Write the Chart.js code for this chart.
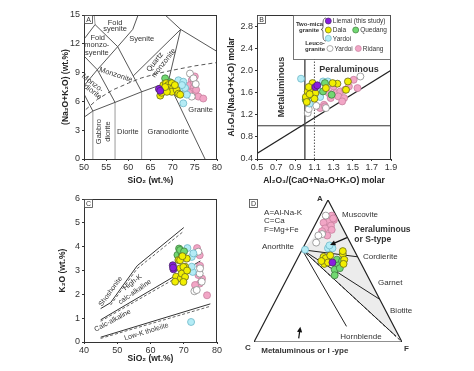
<!DOCTYPE html>
<html>
<head>
<meta charset="utf-8">
<script src="https://cdn.jsdelivr.net/npm/chart.js@4.4.1/dist/chart.umd.min.js"></script>
<style>
  body { margin: 0; background: #fff; width: 474px; height: 371px; position: relative; overflow: hidden; }
  canvas { position: absolute; }
</style>
</head>
<body>
<canvas id="chartA" width="192" height="182" style="left:40px;top:5px;width:192px;height:182px"></canvas>
<canvas id="chartB" width="252" height="182" style="left:222px;top:5px;width:252px;height:182px"></canvas>
<canvas id="chartC" width="192" height="181" style="left:40px;top:190px;width:192px;height:181px"></canvas>
<canvas id="chartD" width="237" height="186" style="left:237px;top:185px;width:237px;height:186px"></canvas>
<script>
// Fonts ----------------------------------------------------------
const FONT = "'Liberation Sans', Arial, Helvetica, sans-serif";
Chart.defaults.font.family = FONT;
Chart.defaults.color = '#333';

// Panel A: TAS diagram ---------------------------------------------
const xTicksA = [50, 55, 60, 65, 70, 75, 80];
const yTicksA = [0, 3, 6, 9, 12, 15];
const tasSolid = [
  [[50, 4.35], [52, 5], [57, 5.9], [63, 7], [69, 8]],
  [[69, 8], [77.3, 0]],
  [[69, 8], [71.8, 13.5]],
  [[63, 7], [57.6, 11.7]],
  [[57, 5.9], [53, 9.3]],
  [[53, 9.3], [57.6, 11.7]],
  [[61.1, 8.65], [71.8, 13.5]],
  [[57.6, 11.7], [61, 13.5], [62.2, 15]],
  [[68.3, 15], [71.8, 13.5], [80, 11.2]],
  [[50, 12.48], [52.5, 14], [57.6, 11.7]],
  [[50, 10.73], [53, 9.3]],
  [[50, 7.63], [53, 9.3]],
  [[50, 6.77], [52, 5]]
];
const tasGray = [
  [[52, 0], [52, 5]],
  [[57, 0], [57, 5.9]],
  [[63, 0], [63, 7]],
  [[52.5, 14], [52.3, 15]]
];
const tasDashed = [[50.4, 5.15], [53, 6.2], [56.5, 7.2], [60, 7.9], [63, 8.45], [66.5, 8.9], [70, 9.25], [75, 9.7], [80, 10.05]];

const liemaiA = [[66.9, 7.3], [67.2, 7.1]];
const dalaA = [[67.2, 6.6], [67.5, 6.9], [67.9, 7.7], [68.5, 7.9], [69.0, 7.7], [69.8, 7.9], [69.0, 7.4], [70.1, 7.4],
  [69.8, 7.0], [70.9, 7.2], [71.3, 6.8], [71.7, 6.7], [68.7, 7.0], [70.5, 7.7], [68.3, 7.5]];
const quedangA = [[68.3, 8.4], [69.4, 8.0]];
const yardoiMicaA = [[71.3, 8.2], [72.4, 8.05], [71.7, 7.2], [72.4, 5.8], [72.8, 7.4], [73.2, 6.7], [72.1, 7.7]];
const yardoiLeucoA = [[73.9, 8.9], [74.7, 8.4], [74.3, 6.5], [75.2, 7.8]];
const ridangA = [[74.3, 8.2], [73.9, 7.7], [74.7, 7.4], [74.3, 7.0], [75.0, 6.8], [75.8, 6.5], [76.9, 6.3],
  [74.8, 8.0], [73.7, 6.9], [75.3, 7.2], [75.0, 8.6]];

const labelsA = [
  {t: 'Foid', x: 57.0, y: 14.2}, {t: 'syenite', x: 57.0, y: 13.5},
  {t: 'Foid', x: 53.1, y: 12.65}, {t: 'monzo-', x: 52.9, y: 11.9}, {t: 'syenite', x: 52.9, y: 11.1},
  {t: 'Syenite', x: 63.0, y: 12.5},
  {t: 'Quartz', x: 66.0, y: 10.1, r: -52}, {t: 'monzonite', x: 68.0, y: 10.0, r: -52},
  {t: 'Monzonite', x: 57.2, y: 8.75, r: 18},
  {t: 'Monzo-', x: 51.9, y: 7.9, r: 38}, {t: 'diorite', x: 52.0, y: 7.0, r: 38},
  {t: 'Gabbro', x: 53.4, y: 2.85, r: -90}, {t: 'diorite', x: 55.3, y: 2.85, r: -90},
  {t: 'Diorite', x: 59.9, y: 2.85}, {t: 'Granodiorite', x: 69.0, y: 2.85}, {t: 'Granite', x: 76.3, y: 5.1}
];

// Panel B: A/NK vs A/CNK ---------------------------------------------
const xTicksB = [0.5, 0.7, 0.9, 1.1, 1.3, 1.5, 1.7, 1.9];
const yTicksB = [0.4, 0.8, 1.2, 1.6, 2.0, 2.4, 2.8];
const bVertical = [[1.0, 0.4], [1.0, 3.0]];
const bDotted = [[1.1, 0.4], [1.1, 3.0]];
const bHorizontal = [[0.5, 1.0], [1.9, 1.0]];
const bDiagonal = [[0.5, 0.5], [1.9, 2.0]];

const liemaiB = [[1.11, 1.70], [1.13, 1.73]];
const dalaB = [[1.01, 1.52], [1.03, 1.62], [1.07, 1.68], [1.11, 1.59], [1.02, 1.43], [1.08, 1.77], [1.34, 1.76],
  [1.29, 1.77], [1.45, 1.80], [1.43, 1.65], [1.22, 1.68], [1.04, 1.70], [1.10, 1.49], [1.05, 1.57]];
const quedangB = [[1.01, 1.47], [1.19, 1.62], [1.21, 1.77], [1.06, 1.56], [1.28, 1.56]];
const yardoiMicaB = [[0.96, 1.85], [1.19, 1.80], [1.24, 1.80], [1.05, 1.40], [1.16, 1.52], [1.13, 1.65], [1.02, 1.44]];
const yardoiLeucoB = [[1.03, 1.23], [1.12, 1.36], [1.22, 1.32], [1.58, 1.89], [1.25, 1.77], [1.04, 1.30]];
const ridangB = [[1.51, 1.83], [1.46, 1.71], [1.55, 1.68], [1.30, 1.71], [1.25, 1.59], [1.32, 1.59], [1.37, 1.62],
  [1.27, 1.50], [1.35, 1.53], [1.41, 1.50], [1.20, 1.38], [1.16, 1.32], [1.21, 1.35], [1.39, 1.44], [1.42, 1.65]];

const labelsB = [
  {t: 'Metaluminous', x: 0.76, y: 1.70, r: -90, bold: true, size: 9},
  {t: 'Peraluminous', x: 1.46, y: 2.02, bold: true, size: 9}
];

// Panel C: K2O vs SiO2 ---------------------------------------------
const xTicksC = [40, 50, 60, 70, 80];
const yTicksC = [0, 1, 2, 3, 4, 5, 6];
const cSolid = [
  [[45, 1.4], [48, 1.65], [56, 3.2], [70, 4.8]],
  [[45, 0.93], [75, 3.4]],
  [[45, 0.2], [78, 1.6]]
];
const cDashed = [
  [[48, 1.55], [56, 3.08], [70, 4.65]],
  [[45, 0.87], [75, 3.27]],
  [[45, 0.15], [78, 1.5]]
];

const liemaiC = [[66.7, 3.22], [66.9, 3.05], [66.8, 3.12]];
const dalaC = [[68.4, 3.44], [68.9, 3.09], [70.4, 3.16], [67.7, 2.74], [69.1, 2.67], [67.4, 2.53], [69.9, 3.15],
  [69.4, 2.87], [70.4, 2.73], [69.9, 2.52], [68.9, 3.43], [70.9, 3.5], [69.6, 3.6], [71.0, 3.0]];
const quedangC = [[68.6, 3.92], [68.1, 3.65], [69.4, 3.71], [68.9, 3.86], [70.1, 3.8]];
const yardoiMicaC = [[71.1, 3.94], [72.4, 3.57], [72.7, 2.94], [72.2, 0.84], [72.4, 3.16], [72.9, 3.72]];
const yardoiLeucoC = [[73.2, 3.71], [74.8, 2.87], [73.2, 2.13], [74.4, 3.79], [75.4, 2.53], [73.9, 2.18], [74.9, 3.09]];
const ridangC = [[74.0, 3.94], [74.8, 3.64], [75.5, 2.66], [74.8, 2.45], [74.4, 2.81], [73.4, 2.39], [77.0, 1.96], [74.9, 3.2]];

const labelsC = [
  {t: 'Shoshonite', x: 48.0, y: 2.12, r: -54},
  {t: 'High-K', x: 54.6, y: 2.5, r: -38},
  {t: 'calc-alkaline', x: 55.3, y: 2.1, r: -35},
  {t: 'Calc-alkaline', x: 48.6, y: 0.9, r: -28},
  {t: 'Low-K tholeiite', x: 58.8, y: 0.43, r: -17}
];

// Panel D: ACF ternary, values are [A, C, F] ---------------------------
const apexA = [100, 0, 0], apexC = [0, 100, 0], apexF = [0, 0, 100];
const anorthite = [65, 35, 0];
const muscovite = [90, 0, 10];
const cordierite = [60, 0, 40];
const garnet = [30, 0, 70];
const biotite = [4, 2, 94];
const hornblende = [11, 32, 57];

const liemaiD = [[56, 19, 25]];
const dalaD = [[60, 23, 17], [59, 22, 19], [61, 18, 21], [55, 25, 20], [56, 22, 22], [62, 9, 29], [58, 10, 32],
  [55, 12, 33], [57, 26, 17], [64, 8, 28]];
const quedangD = [[58, 15, 27], [54, 16, 30], [51, 20, 29], [47, 22, 31], [52, 16, 32], [57, 12, 31]];
const yardoiMicaD = [[66, 17, 17], [66, 14, 20], [65, 33, 2], [68, 15, 17]];
const yardoiLeucoD = [[89, 7, 4], [76, 16, 8], [70, 23, 7], [75, 19, 6]];
const ridangD = [[88, 7, 5], [89, 3, 8], [86, 3, 11], [85, 7, 8], [84, 11, 5], [82, 7, 11], [80, 12, 8],
  [79, 8, 13], [78, 15, 7], [75, 13, 12], [87, 3, 10]];

// label positions in the ternary plane (x: C->F, y: base->A)
const labelsD = [
  {t: 'A=Al-Na-K', x: 0.068, y: 0.908, align: 'left'},
  {t: 'C=Ca', x: 0.068, y: 0.852, align: 'left'},
  {t: 'F=Mg+Fe', x: 0.068, y: 0.789, align: 'left'},
  {t: 'A', x: 0.446, y: 1.01, bold: true},
  {t: 'C', x: -0.041, y: -0.042, bold: true},
  {t: 'F', x: 1.03, y: -0.049, bold: true},
  {t: 'Anorthite', x: 0.162, y: 0.669},
  {t: 'Muscovite', x: 0.595, y: 0.898, align: 'left'},
  {t: 'Peraluminous', x: 0.678, y: 0.794, align: 'left', bold: true, size: 8.5},
  {t: 'or S-type', x: 0.678, y: 0.718, align: 'left', bold: true, size: 8.5},
  {t: 'Cordierite', x: 0.736, y: 0.601, align: 'left'},
  {t: 'Garnet', x: 0.838, y: 0.415, align: 'left'},
  {t: 'Biotite', x: 0.919, y: 0.218, align: 'left'},
  {t: 'Hornblende', x: 0.583, y: 0.037, align: 'left'},
  {t: 'Metaluminous or I -ype', x: 0.049, y: -0.063, align: 'left', bold: true}
];
const arrowsD = [
  {from: [0.628, 0.735], to: [0.514, 0.683]},
  {from: [0.302, 0.026], to: [0.313, 0.108]}
];

// Group styles ----------------------------------------------------
const groups = [
  {name: 'Liemai (this study)', bg: '#8a1de0', bd: '#4a2a6a'},
  {name: 'Dala', bg: '#f2ef00', bd: '#6a6a20'},
  {name: 'Quedang', bg: '#72d872', bd: '#3f7f3f'},
  {name: 'Yardoi', bg: '#b4ecf6', bd: '#6fb8c8'},
  {name: 'Yardoi', bg: '#ffffff', bd: '#8a8a8a'},
  {name: 'Ridang', bg: '#f2a6c6', bd: '#c7809e'}
];

// Helpers ----------------------------------------------------------
function xy(arr) {
  return arr.map(p => ({x: p[0], y: p[1]}));
}

// ternary [A, C, F] -> plane x,y
function tern(p) {
  let s = p[0] + p[1] + p[2];
  let a = p[0] / s, f = p[2] / s;
  return {x: f + a / 2, y: a};
}

function pointSets(series, conv) {
  return series.map((s, i) => ({
    data: s.map(conv),
    showLine: false,
    pointRadius: 3.5,
    pointBorderWidth: 0.8,
    backgroundColor: groups[i].bg,
    borderColor: groups[i].bd
  }));
}

function lineSet(pts, color, width, dash) {
  return {
    data: pts,
    showLine: true,
    pointRadius: 0,
    borderColor: color,
    borderWidth: width,
    borderDash: dash || [],
    fill: false
  };
}

function axis(min, max, ticks, digits, title, titlePad, size, isX) {
  return {
    type: 'linear', min: min, max: max,
    afterBuildTicks: s => { s.ticks = ticks.map(v => ({value: v})); },
    afterFit: s => { if (isX) s.height = size; else s.width = size; },
    border: {display: true, color: '#333', width: 1},
    grid: {drawOnChartArea: false, drawTicks: true, tickLength: 2, color: '#333'},
    ticks: {
      padding: isX ? 1 : 2, color: '#333', autoSkip: false, maxRotation: 0,
      font: {family: FONT, size: 9},
      callback: v => v.toFixed(digits)
    },
    title: {display: true, text: title, color: '#222', padding: titlePad,
      font: {family: FONT, size: 8.5, weight: 'bold'}}
  };
}

// Draws frame, panel letter, labels, arrows, legend
const decor = {
  id: 'decor',
  afterDatasetsDraw(chart, args, opts) {
    let ctx = chart.ctx;
    let ca = chart.chartArea;
    let xs = chart.scales.x, ys = chart.scales.y;
    ctx.save();

    if (opts.frame) {
      ctx.strokeStyle = '#333';
      ctx.lineWidth = 1;
      ctx.strokeRect(ca.left + 0.5, ca.top + 0.5, ca.width - 1, ca.height);
    }

    // Panel letter box
    if (opts.letter) {
      let bx = ca.left + opts.letter.dx, by = ca.top + opts.letter.dy;
      ctx.fillStyle = '#fff';
      ctx.fillRect(bx + 0.5, by + 0.5, 8, 8);
      ctx.strokeStyle = '#444';
      ctx.lineWidth = 0.8;
      ctx.strokeRect(bx + 0.5, by + 0.5, 8, 8);
      ctx.fillStyle = '#333';
      ctx.font = '7px ' + FONT;
      ctx.textAlign = 'center';
      ctx.textBaseline = 'middle';
      ctx.fillText(opts.letter.t, bx + 4.5, by + 5);
    }

    // Text labels in data units
    (opts.labels || []).forEach(l => {
      ctx.save();
      ctx.translate(xs.getPixelForValue(l.x), ys.getPixelForValue(l.y));
      ctx.rotate((l.r || 0) * Math.PI / 180);
      ctx.font = (l.bold ? 'bold ' : '') + (l.size || opts.size || 7.5) + 'px ' + FONT;
      ctx.fillStyle = '#333';
      ctx.textAlign = l.align || 'center';
      ctx.textBaseline = 'middle';
      ctx.fillText(l.t, 0, 0);
      ctx.restore();
    });

    // Arrows
    (opts.arrows || []).forEach(a => {
      let x1 = xs.getPixelForValue(a.from[0]), y1 = ys.getPixelForValue(a.from[1]);
      let x2 = xs.getPixelForValue(a.to[0]), y2 = ys.getPixelForValue(a.to[1]);
      let ang = Math.atan2(y2 - y1, x2 - x1);
      ctx.strokeStyle = '#111';
      ctx.fillStyle = '#111';
      ctx.lineWidth = 1.2;
      ctx.beginPath();
      ctx.moveTo(x1, y1);
      ctx.lineTo(x2 - 4 * Math.cos(ang), y2 - 4 * Math.sin(ang));
      ctx.stroke();
      ctx.beginPath();
      ctx.moveTo(x2, y2);
      ctx.lineTo(x2 - 6 * Math.cos(ang - 0.45), y2 - 6 * Math.sin(ang - 0.45));
      ctx.lineTo(x2 - 6 * Math.cos(ang + 0.45), y2 - 6 * Math.sin(ang + 0.45));
      ctx.closePath();
      ctx.fill();
    });

    if (opts.legend) drawLegend(ctx, ca.left, ca.top);
    ctx.restore();
  }
};

function drawLegend(ctx, ox, oy) {
  // box
  ctx.fillStyle = '#fff';
  ctx.fillRect(ox + 36, oy + 0.5, 97, 44);
  ctx.strokeStyle = '#555';
  ctx.lineWidth = 0.8;
  ctx.strokeRect(ox + 36.5, oy + 0.5, 97, 44);

  ctx.fillStyle = '#333';
  ctx.textBaseline = 'middle';
  ctx.textAlign = 'center';
  ctx.font = 'bold 6px ' + FONT;
  ctx.fillText('Two-mica', ox + 52.5, oy + 9.5);
  ctx.fillText('granite', ox + 52, oy + 15.5);
  ctx.fillText('Leuco-', ox + 58, oy + 28.5);
  ctx.fillText('granite', ox + 58, oy + 34);

  // brace
  ctx.strokeStyle = '#444';
  ctx.lineWidth = 0.8;
  ctx.beginPath();
  ctx.moveTo(ox + 69, oy + 3);
  ctx.quadraticCurveTo(ox + 66, oy + 3, ox + 66, oy + 8);
  ctx.lineTo(ox + 66, oy + 12);
  ctx.quadraticCurveTo(ox + 66, oy + 14.5, ox + 64, oy + 14.5);
  ctx.quadraticCurveTo(ox + 66, oy + 14.5, ox + 66, oy + 17);
  ctx.lineTo(ox + 66, oy + 21);
  ctx.quadraticCurveTo(ox + 66, oy + 26, ox + 69, oy + 26);
  ctx.stroke();

  let items = [
    {g: 0, x: 71.3, y: 6},
    {g: 1, x: 71.3, y: 15},
    {g: 2, x: 98.7, y: 15},
    {g: 3, x: 71.3, y: 23.3},
    {g: 4, x: 73, y: 33.5},
    {g: 5, x: 101.3, y: 33.5}
  ];
  ctx.textAlign = 'left';
  ctx.font = '6.5px ' + FONT;
  items.forEach(it => {
    let g = groups[it.g];
    ctx.beginPath();
    ctx.arc(ox + it.x, oy + it.y, 3, 0, Math.PI * 2);
    ctx.fillStyle = g.bg;
    ctx.fill();
    ctx.strokeStyle = g.bd;
    ctx.lineWidth = 0.7;
    ctx.stroke();
    ctx.fillStyle = '#333';
    ctx.fillText(g.name, ox + it.x + 4.5, oy + it.y + 0.5);
  });
}

const common = {
  responsive: false,
  animation: false,
  events: [],
  plugins: {legend: {display: false}, tooltip: {enabled: false}}
};

function makeOptions(extra) {
  return Object.assign({}, common, extra, {
    plugins: Object.assign({}, common.plugins, extra.plugins)
  });
}

// Chart A ----------------------------------------------------------
let setsA = pointSets([liemaiA, dalaA, quedangA, yardoiMicaA, yardoiLeucoA, ridangA], p => ({x: p[0], y: p[1]}));
tasSolid.forEach(l => setsA.push(lineSet(xy(l), '#444', 0.9)));
tasGray.forEach(l => setsA.push(lineSet(xy(l), '#9a9a9a', 1)));
setsA.push(lineSet(xy(tasDashed), '#444', 0.9, [4, 3]));

new Chart(document.getElementById('chartA'), {
  type: 'scatter',
  data: {datasets: setsA},
  options: makeOptions({
    layout: {padding: {left: 0, top: 10, right: 15, bottom: 0}},
    scales: {
      x: axis(50, 80, xTicksA, 0, 'SiO\u2082 (wt.%)', {top: 0, bottom: 1.6}, 28, true),
      y: axis(0, 15, yTicksA, 0, '(Na\u2082O+K\u2082O) (wt.%)', {top: 20.6, bottom: 0}, 44, false)
    },
    plugins: {decor: {frame: true, letter: {t: 'A', dx: 0, dy: 0}, labels: labelsA}}
  }),
  plugins: [decor]
});

// Chart B ----------------------------------------------------------
let setsB = pointSets([liemaiB, dalaB, quedangB, yardoiMicaB, yardoiLeucoB, ridangB], p => ({x: p[0], y: p[1]}));
setsB.push(lineSet(xy(bVertical), '#555', 1.5));
setsB.push(lineSet(xy(bDotted), '#555', 1, [1.5, 1.5]));
setsB.push(lineSet(xy(bHorizontal), '#333', 1));
setsB.push(lineSet(xy(bDiagonal), '#222', 1.2));

new Chart(document.getElementById('chartB'), {
  type: 'scatter',
  data: {datasets: setsB},
  options: makeOptions({
    layout: {padding: {left: 0, top: 10, right: 83, bottom: 0}},
    scales: {
      x: axis(0.5, 1.9, xTicksB, 1, 'Al\u2082O\u2083/(CaO+Na\u2082O+K\u2082O) molar', {top: 0, bottom: 1.6}, 28, true),
      y: axis(0.4, 3.0, yTicksB, 1, 'Al\u2082O\u2083/(Na\u2082O+K\u2082O) molar', {top: 4.3, bottom: 0}, 35, false)
    },
    plugins: {decor: {frame: true, letter: {t: 'B', dx: 0, dy: 0}, labels: labelsB, legend: true}}
  }),
  plugins: [decor]
});

// Chart C ----------------------------------------------------------
let setsC = pointSets([liemaiC, dalaC, quedangC, yardoiMicaC, yardoiLeucoC, ridangC], p => ({x: p[0], y: p[1]}));
cSolid.forEach(l => setsC.push(lineSet(xy(l), '#333', 1)));
cDashed.forEach(l => setsC.push(lineSet(xy(l), '#555', 0.9, [3, 2])));

new Chart(document.getElementById('chartC'), {
  type: 'scatter',
  data: {datasets: setsC},
  options: makeOptions({
    layout: {padding: {left: 0, top: 9, right: 15, bottom: 0}},
    scales: {
      x: axis(40, 80, xTicksC, 0, 'SiO\u2082 (wt.%)', {top: 0, bottom: 7.6}, 29, true),
      y: axis(0, 6, yTicksC, 0, 'K\u2082O (wt.%)', {top: 17.6, bottom: 0}, 44, false)
    },
    plugins: {decor: {frame: true, letter: {t: 'C', dx: 0, dy: 0}, labels: labelsC, size: 7}}
  }),
  plugins: [decor]
});

// Chart D ----------------------------------------------------------
let setsD = pointSets([liemaiD, dalaD, quedangD, yardoiMicaD, yardoiLeucoD, ridangD], tern);
setsD.push(lineSet([anorthite, cordierite].map(tern), '#222', 1));
setsD.push(lineSet([anorthite, garnet].map(tern), '#222', 1));
setsD.push(lineSet([anorthite, biotite].map(tern), '#222', 1));
setsD.push(lineSet([anorthite, apexF].map(tern), '#222', 1, [3, 2]));
setsD.push(lineSet([anorthite, hornblende].map(tern), '#222', 1));
setsD.push(lineSet([apexA, apexC, apexF, apexA].map(tern), '#222', 1.2));
setsD.push(Object.assign(lineSet([anorthite, muscovite, [4, 0, 96], biotite, anorthite].map(tern), 'rgba(0,0,0,0)', 0), {
  fill: 'shape', backgroundColor: '#ececec'
}));

new Chart(document.getElementById('chartD'), {
  type: 'scatter',
  data: {datasets: setsD},
  options: makeOptions({
    layout: {padding: {left: 17, top: 15, right: 72, bottom: 29}},
    scales: {
      x: {type: 'linear', min: 0, max: 1, display: false},
      y: {type: 'linear', min: 0, max: 1, display: false}
    },
    plugins: {decor: {frame: false, letter: {t: 'D', dx: -5, dy: -1}, labels: labelsD, arrows: arrowsD, size: 8}}
  }),
  plugins: [decor]
});
</script>
</body>
</html>
